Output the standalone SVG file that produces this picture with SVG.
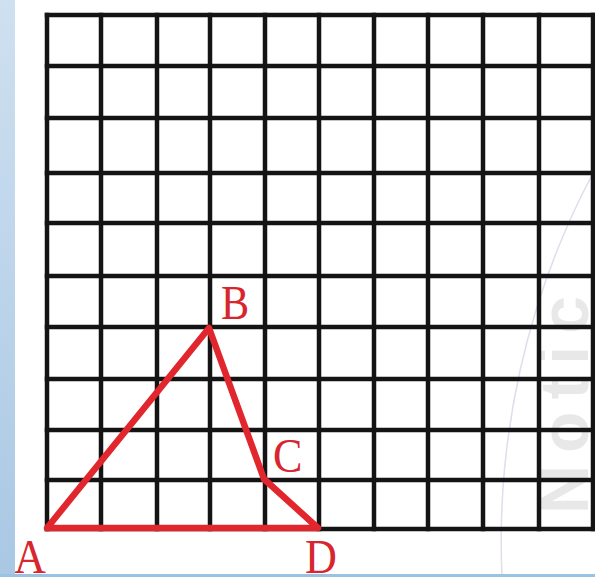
<svg xmlns="http://www.w3.org/2000/svg" width="595" height="577" viewBox="0 0 595 577">
<defs>
<linearGradient id="sideBlue" x1="0" y1="0" x2="0" y2="1">
<stop offset="0" stop-color="#cfe0f0"/>
<stop offset="1" stop-color="#a9c8e4"/>
</linearGradient>
<style>
.grid line{stroke:#141414;stroke-width:4.5;stroke-linecap:square}
.tri{fill:none;stroke:#e2262d;stroke-width:6.5;stroke-linejoin:round;stroke-linecap:round}
.lbl{font-family:"Liberation Serif","Times New Roman",serif;font-size:48px;fill:#d8262f}
.wm{font-family:"Liberation Sans",Arial,sans-serif;font-size:68px;font-weight:bold;fill:#e8e8e8;letter-spacing:12px}
</style>
</defs>
<rect width="595" height="577" fill="#ffffff"/>
<g id="watermark">
<path d="M592,175 A785,785 0 0 0 502,577" fill="none" stroke="#dcdfec" stroke-width="1.5"/>
<text class="wm" transform="translate(588,514) rotate(-90)">Notic</text>
</g>
<g id="grid" class="grid">
<line x1="47" y1="15" x2="47" y2="529"/>
<line x1="101" y1="15" x2="101" y2="529"/>
<line x1="157" y1="15" x2="157" y2="529"/>
<line x1="210" y1="15" x2="210" y2="529"/>
<line x1="265" y1="15" x2="265" y2="529"/>
<line x1="319" y1="15" x2="319" y2="529"/>
<line x1="374" y1="15" x2="374" y2="529"/>
<line x1="428" y1="15" x2="428" y2="529"/>
<line x1="483" y1="15" x2="483" y2="529"/>
<line x1="539" y1="15" x2="539" y2="529"/>
<line x1="593" y1="15" x2="593" y2="529"/>
<line x1="47" y1="15" x2="593" y2="15"/>
<line x1="47" y1="66" x2="593" y2="66"/>
<line x1="47" y1="118" x2="593" y2="118"/>
<line x1="47" y1="173" x2="593" y2="173"/>
<line x1="47" y1="223" x2="593" y2="223"/>
<line x1="47" y1="276" x2="593" y2="276"/>
<line x1="47" y1="327" x2="593" y2="327"/>
<line x1="47" y1="379" x2="593" y2="379"/>
<line x1="47" y1="430" x2="593" y2="430"/>
<line x1="47" y1="480" x2="593" y2="480"/>
<line x1="47" y1="529" x2="593" y2="529"/>
</g>
<g id="connectors">
<polygon class="tri" points="47,528 209,328 264,479 318,528"/>
</g>
<g id="node-A"><text class="lbl" transform="translate(14,573) scale(0.92,1)">A</text></g>
<g id="node-B"><text class="lbl" transform="translate(221,319) scale(0.88,1)">B</text></g>
<g id="node-C"><text class="lbl" transform="translate(273,472) scale(0.92,1)">C</text></g>
<g id="node-D"><text class="lbl" transform="translate(305,573) scale(0.92,1)">D</text></g>
<rect x="0" y="0" width="15" height="577" fill="url(#sideBlue)"/>
<rect x="0" y="574" width="595" height="3" fill="#9cc2e2"/>
</svg>
